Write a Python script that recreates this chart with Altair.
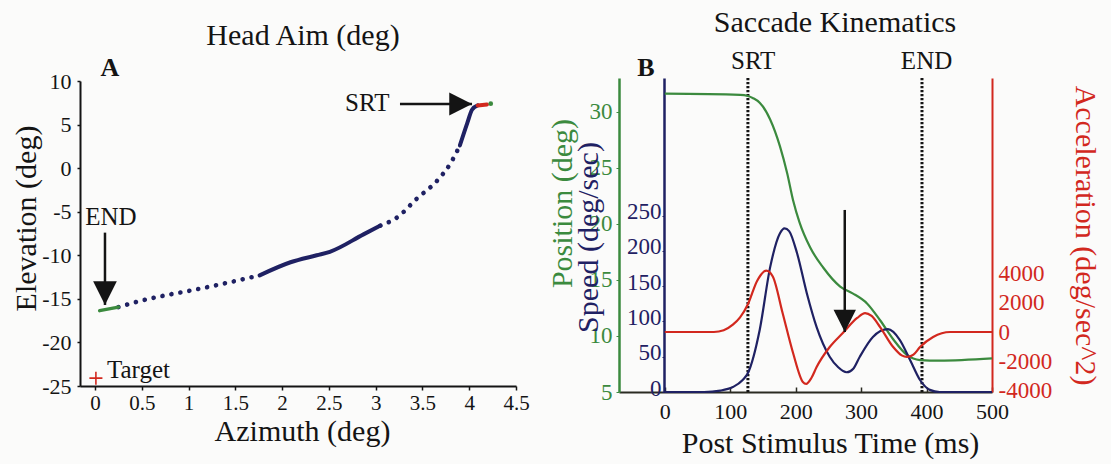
import altair as alt
import pandas as pd

SERIF = "Liberation Serif, Times New Roman, serif"
INK = "#141414"
NAVY = "#1f2163"
GREEN = "#3b8a3e"
RED = "#d2281e"

# ---------------- Panel A: head aim trace (deg) ----------------
aim_az = [0.05, 0.25, 0.48, 0.75, 1.02, 1.44, 1.76, 2.09, 2.37, 2.51, 2.87,
          3.05, 3.23, 3.44, 3.66, 3.80, 3.90, 3.98, 4.03, 4.09, 4.19]
aim_el = [-16.35, -15.95, -15.25, -14.6, -14.05, -13.1, -12.3, -10.8, -10.0, -9.6, -7.6,
          -6.6, -5.65, -3.5, -1.4, 0.55, 2.6, 5.2, 6.7, 7.2, 7.3]
# stretches of the trace: (style, first vertex, last vertex)
aim_runs = [("end", 0, 1), ("sparse", 1, 6), ("dense", 6, 11),
            ("sparse", 11, 16), ("dense", 16, 19), ("srt", 19, 20)]
aim_tail_az = [4.23]
aim_tail_el = [7.4]
target_az = [0.01]
target_el = [-24.1]

# annotation arrows in panel A
end_arrow_az = [0.107]
end_arrow_from = [-7.4]
end_arrow_tip = [-15.7]
srt_arrow_el = [7.36]
srt_arrow_from = [3.26]
srt_arrow_tip = [4.03]

# ---------------- Panel B: saccade kinematics ----------------
t_pos = [0, 115, 127, 135, 145, 161, 176, 187, 196, 206, 222, 242, 268, 287, 309,
         329, 349, 370, 390, 420, 500]
pos = [31.6, 31.5, 31.4, 31.2, 30.8, 29.3, 26.9, 24.5, 22.1, 20.1, 17.9, 16.1, 14.4,
       13.8, 12.9, 11.4, 9.7, 8.3, 7.85, 7.8, 8.0]

t_speed = [0, 60, 85, 104, 119, 127, 145, 161, 176, 183, 190, 202, 217, 232, 252, 265,
           278, 288, 298, 318, 341, 359, 375, 390, 405, 420, 500]
speed = [0, 0, 2, 7, 17, 27, 88, 177, 225, 232, 228, 197, 140, 92, 50, 35,
         28, 33, 50, 78, 89, 74, 45, 17, 3, 0, 0]

t_acc = [0, 75, 90, 104, 115, 127, 141, 155, 165, 180, 196, 211, 216, 224, 232, 252,
         272, 294, 306, 316, 329, 349, 362, 370, 380, 390, 410, 436, 500]
acc = [0, 0, 120, 500, 1000, 1900, 3500, 4200, 3800, 1300, -1440, -3420, -3550, -3150,
       -2400, -1030, -70, 960, 1300, 1100, 340, -1030, -1600, -1710, -1550, -1030, -340, 0, 0]

phase_t = [127, 393]
phase_label_t = [135, 400]
phase_label = ["SRT", "END"]

dip_arrow_t = [275]
dip_arrow_from = [258]
dip_arrow_tip = [85]

# ---------------- scales (pixel ranges place each panel) ----------------
def sc(domain, rng):
    return alt.Scale(domain=domain, range=rng, nice=False, zero=False)

A_X = ([-0.16, 4.5], [80, 516])
A_Y = ([-25, 10], [386, 81])
B_X = ([-70, 500], [619, 992])
B_POS = ([5, 33], [392, 78])
B_SPD = ([0, 445], [392, 78])
B_ACC = ([-4110, 17400], [392, 78])


def qx(field, dom, axis=None):
    return alt.X(f"{field}:Q", scale=sc(*dom), axis=axis)


def qy(field, dom, axis=None):
    return alt.Y(f"{field}:Q", scale=sc(*dom), axis=axis)


def qy2(field):
    return alt.Y2(f"{field}:Q")


def qx2(field):
    return alt.X2(f"{field}:Q")


common_axis = dict(grid=False, labelFont=SERIF, titleFont=SERIF, labelOverlap=False,
                   labelFlush=False, titleFontWeight="normal")

# ---------------- panel A layers ----------------
rows = []
for k, (style, a, b) in enumerate(aim_runs):
    for i in range(a, b + 1):
        rows.append({"seg": k, "style": style, "i": i, "az": aim_az[i], "el": aim_el[i]})
aim = pd.DataFrame(rows)

ax_a_x = alt.Axis(orient="bottom", offset=-78, values=[0, 0.5, 1, 1.5, 2, 2.5, 3, 3.5, 4, 4.5],
                  labelExpr="'' + datum.value", domainColor=INK, domainWidth=2,
                  tickColor=INK, tickSize=4, tickWidth=1.5, labelColor=INK, labelFontSize=21,
                  labelPadding=2, title="Azimuth (deg)", titleFontSize=30, titleColor=INK,
                  titleX=302, titleY=54, titleAlign="center", titleBaseline="alphabetic",
                  **common_axis)
ax_a_y = alt.Axis(orient="left", offset=-80, values=[-25, -20, -15, -10, -5, 0, 5, 10],
                  labelExpr="'' + datum.value", domainColor=INK, domainWidth=2,
                  tickColor=INK, tickSize=3, tickWidth=1.5, labelColor=INK, labelFontSize=22,
                  labelPadding=6, title="Elevation (deg)", titleFontSize=30, titleColor=INK,
                  titleAngle=270, titleX=-54, titleY=218, titleAlign="center",
                  titleBaseline="middle", **common_axis)

a_dense = alt.Chart(aim).transform_filter("datum.style == 'dense'").mark_line(
    color=NAVY, strokeWidth=4, strokeCap="round", interpolate="monotone"
).encode(x=qx("az", A_X, ax_a_x), y=qy("el", A_Y, ax_a_y), detail="seg:N", order="i:Q")

a_sparse = alt.Chart(aim).transform_filter("datum.style == 'sparse'").mark_line(
    color=NAVY, strokeWidth=4.6, strokeCap="round", strokeDash=[0.1, 9], interpolate="monotone"
).encode(x=qx("az", A_X), y=qy("el", A_Y), detail="seg:N", order="i:Q")

a_end = alt.Chart(aim).transform_filter("datum.style == 'end'").mark_line(
    color=GREEN, strokeWidth=3.5, strokeCap="round"
).encode(x=qx("az", A_X), y=qy("el", A_Y), detail="seg:N", order="i:Q")

a_srt = alt.Chart(aim).transform_filter("datum.style == 'srt'").mark_line(
    color=RED, strokeWidth=4, strokeCap="round"
).encode(x=qx("az", A_X), y=qy("el", A_Y), detail="seg:N", order="i:Q")

a_tail = alt.Chart(pd.DataFrame({"az": aim_tail_az, "el": aim_tail_el})).mark_point(
    color=GREEN, filled=True, size=22, opacity=1
).encode(x=qx("az", A_X), y=qy("el", A_Y))

a_target = alt.Chart(pd.DataFrame({"az": target_az, "el": target_el})).mark_point(
    shape="M-1,0L1,0M0,-1L0,1", color=RED, filled=False, size=170, strokeWidth=1.6, opacity=1
).encode(x=qx("az", A_X), y=qy("el", A_Y))

a_target_txt = alt.Chart(pd.DataFrame({"az": [0.128], "el": [-24.08], "t": ["Target"]})).mark_text(
    font=SERIF, fontSize=25, color=INK, align="left", baseline="alphabetic"
).encode(x=qx("az", A_X), y=qy("el", A_Y), text="t:N")

end_df = pd.DataFrame({"az": end_arrow_az, "e0": end_arrow_from, "e1": end_arrow_tip})
a_end_shaft = alt.Chart(end_df).mark_rule(color=INK, strokeWidth=2.5).encode(
    x=qx("az", A_X), y=qy("e0", A_Y), y2=qy2("e1"))
a_end_head = alt.Chart(end_df).mark_point(
    shape="M-1,-2L1,-2L0,0Z", filled=True, color=INK, size=560, opacity=1
).encode(x=qx("az", A_X), y=qy("e1", A_Y))
a_end_txt = alt.Chart(pd.DataFrame({"az": [0.17], "el": [-5.6], "t": ["END"]})).mark_text(
    font=SERIF, fontSize=25, color=INK, align="center", baseline="middle"
).encode(x=qx("az", A_X), y=qy("el", A_Y), text="t:N")

srt_df = pd.DataFrame({"el": srt_arrow_el, "a0": srt_arrow_from, "a1": srt_arrow_tip})
a_srt_shaft = alt.Chart(srt_df).mark_rule(color=INK, strokeWidth=2.5).encode(
    y=qy("el", A_Y), x=qx("a0", A_X), x2=qx2("a1"))
a_srt_head = alt.Chart(srt_df).mark_point(
    shape="M-2,-1L-2,1L0,0Z", filled=True, color=INK, size=520, opacity=1
).encode(x=qx("a1", A_X), y=qy("el", A_Y))
a_srt_txt = alt.Chart(pd.DataFrame({"az": [2.91], "el": [7.45], "t": ["SRT"]})).mark_text(
    font=SERIF, fontSize=25, color=INK, align="center", baseline="middle"
).encode(x=qx("az", A_X), y=qy("el", A_Y), text="t:N")

# ---------------- panel B layers ----------------
pos_df = pd.DataFrame({"t": t_pos, "v": pos})
spd_df = pd.DataFrame({"t": t_speed, "v": speed})
acc_df = pd.DataFrame({"t": t_acc, "v": acc})

ax_b_x = alt.Axis(orient="bottom", offset=-72, values=[0, 100, 200, 300, 400, 500],
                  domainColor="#2b2b22", domainWidth=2, ticks=False, labelColor=INK,
                  labelFontSize=22, labelPadding=9, title="Post Stimulus Time (ms)",
                  titleFontSize=30, titleColor=INK, titleX=830, titleY=60,
                  titleAlign="center", titleBaseline="alphabetic", **common_axis)
ax_b_xticks = alt.Axis(orient="top", offset=-392, values=[0, 100, 200, 300, 400, 500],
                       labels=False, domain=False, tickColor="#2b2b22", tickSize=5,
                       tickWidth=1.5, title=None, grid=False)
ax_pos = alt.Axis(orient="left", offset=-619, values=[5, 10, 15, 20, 25, 30],
                  domainColor=GREEN, domainWidth=2.5, tickColor=GREEN, tickSize=3,
                  labelColor=GREEN, labelFontSize=23, labelPadding=4,
                  title="Position (deg)", titleFontSize=30, titleColor=GREEN,
                  titleAngle=270, titleX=-57, titleY=203, titleAlign="center",
                  titleBaseline="middle", **common_axis)
ax_spd = alt.Axis(orient="left", offset=-664, values=[0, 50, 100, 150, 200, 250],
                  domainColor=NAVY, domainWidth=2.5, tickColor=NAVY, tickSize=2,
                  labelColor=NAVY, labelFontSize=23, labelPadding=1, labelOffset=-4,
                  title="Speed (deg/sec)", titleFontSize=30, titleColor=NAVY,
                  titleAngle=270, titleX=-76, titleY=237, titleAlign="center",
                  titleBaseline="middle", **common_axis)
ax_acc = alt.Axis(orient="right", offset=-119, values=[-4000, -2000, 0, 2000, 4000],
                  labelExpr="'' + datum.value", domainColor=RED, domainWidth=2,
                  ticks=False, labelColor=RED, labelFontSize=23, labelPadding=6,
                  title="Acceleration (deg/sec^2)", titleFontSize=30, titleColor=RED,
                  titleAngle=90, titleX=92, titleY=235, titleAlign="center",
                  titleBaseline="middle", **common_axis)

phase_df = pd.DataFrame({"t": phase_t})
b_phase = alt.Chart(phase_df).mark_rule(color=INK, strokeWidth=3, strokeDash=[2.2, 1.8]).encode(
    x=qx("t", B_X, ax_b_xticks), y=alt.value(78), y2=alt.value(392))

b_phase_txt = alt.Chart(pd.DataFrame({"t": phase_label_t, "lbl": phase_label})).mark_text(
    font=SERIF, fontSize=25, color=INK, align="center", baseline="middle"
).encode(x=qx("t", B_X), y=alt.value(61), text="lbl:N")

b_pos = alt.Chart(pos_df).mark_line(color=GREEN, strokeWidth=2.2, interpolate="monotone").encode(
    x=qx("t", B_X, ax_b_x), y=qy("v", B_POS, ax_pos))
b_spd = alt.Chart(spd_df).mark_line(color=NAVY, strokeWidth=2.2, interpolate="monotone").encode(
    x=qx("t", B_X), y=qy("v", B_SPD, ax_spd))
b_acc = alt.Chart(acc_df).mark_line(color=RED, strokeWidth=2.2, interpolate="monotone").encode(
    x=qx("t", B_X), y=qy("v", B_ACC, ax_acc))

dip_df = pd.DataFrame({"t": dip_arrow_t, "s0": dip_arrow_from, "s1": dip_arrow_tip})
b_dip_shaft = alt.Chart(dip_df).mark_rule(color=INK, strokeWidth=2.5).encode(
    x=qx("t", B_X), y=qy("s0", B_SPD), y2=qy2("s1"))
b_dip_head = alt.Chart(dip_df).mark_point(
    shape="M-1,-2L1,-2L0,0Z", filled=True, color=INK, size=500, opacity=1
).encode(x=qx("t", B_X), y=qy("s1", B_SPD))

# ---------------- titles and panel letters ----------------
heads = pd.DataFrame({
    "x": [303, 835], "y": [36, 23], "t": ["Head Aim (deg)", "Saccade Kinematics"]})
head_txt = alt.Chart(heads).mark_text(
    font=SERIF, fontSize=30, color=INK, align="center", baseline="middle"
).encode(x=alt.X("x:Q", scale=None), y=alt.Y("y:Q", scale=None), text="t:N")

letters = pd.DataFrame({"x": [110, 646], "y": [68, 68], "t": ["A", "B"]})
letter_txt = alt.Chart(letters).mark_text(
    font=SERIF, fontSize=26, fontWeight="bold", color=INK, align="center", baseline="middle"
).encode(x=alt.X("x:Q", scale=None), y=alt.Y("y:Q", scale=None), text="t:N")

chart = alt.layer(
    a_dense, a_sparse, a_end, a_srt, a_tail, a_target, a_target_txt,
    a_end_shaft, a_end_head, a_end_txt, a_srt_shaft, a_srt_head, a_srt_txt,
    b_phase, b_phase_txt, b_pos, b_spd, b_acc, b_dip_shaft, b_dip_head,
    head_txt, letter_txt,
).resolve_scale(x="independent", y="independent").properties(
    width=1111, height=464, autosize=alt.AutoSizeParams(type="none"), padding=0,
    background="#fbfbfa"
).configure_view(stroke=None)

chart.save("out.html", embed_options={"renderer": "svg", "actions": False})
